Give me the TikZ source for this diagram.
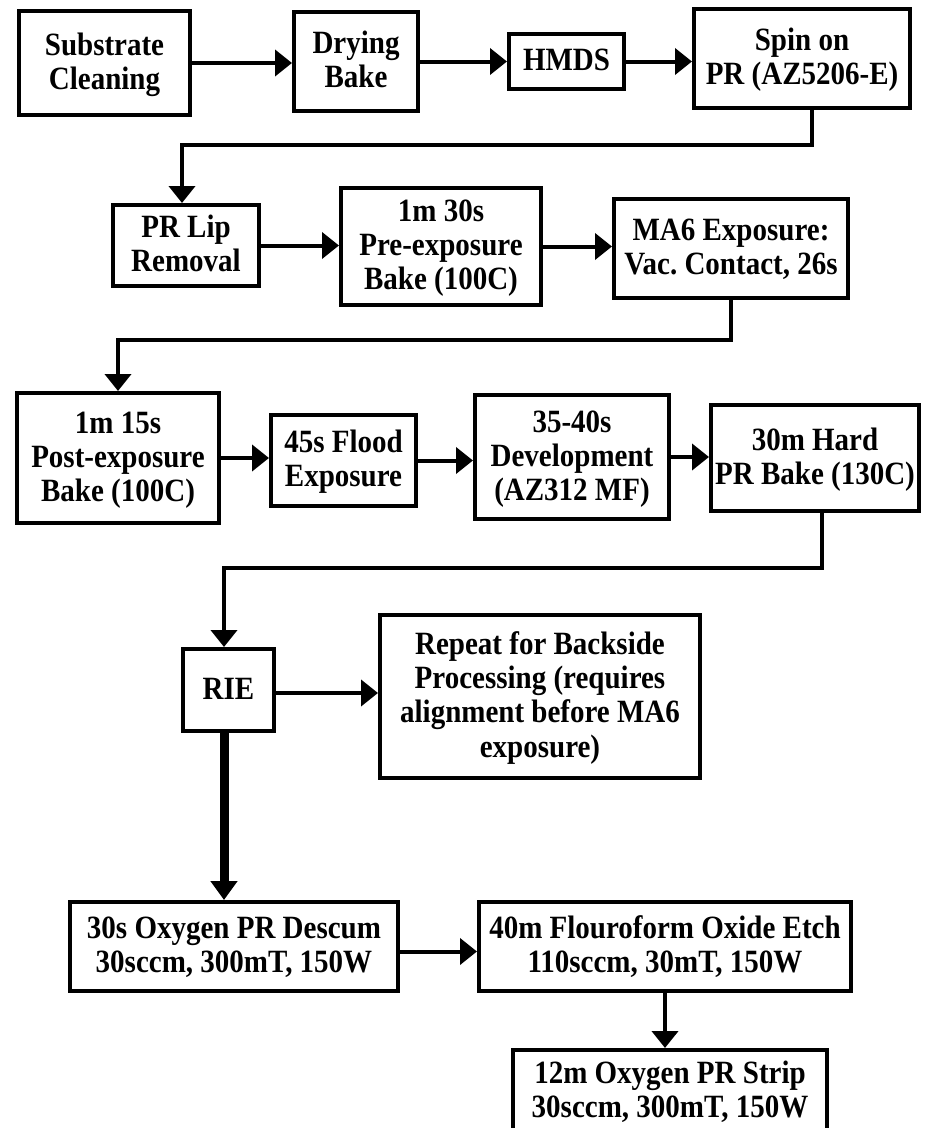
\documentclass[tikz,border=0pt]{standalone}
\usepackage{fontspec}
\setmainfont{Liberation Serif}
\usetikzlibrary{arrows.meta,calc}
% box label: centred lines, set slightly tall and a touch low
\newcommand\lbl[1]{\raisebox{-2.5pt}[\height][\depth]{\scalebox{1}[1.12]{\begin{tabular}{@{}c@{}}#1\end{tabular}}}}
\begin{document}
\frenchspacing
\begin{tikzpicture}[x=1pt,y=-1pt,
  box/.style={draw, line width=4pt, align=center, inner sep=0pt,
    font=\fontsize{29}{30.5}\selectfont\bfseries},
  arr/.style={line width=4pt, -{Triangle[length=17pt,width=26pt]}},
  heavyarr/.style={line width=9pt, -{Triangle[length=19pt,width=26pt]}}]
\clip (0,0) rectangle (925,1128);
\fill[white] (0,0) rectangle (925,1128);

% first row: preparation
\node[box, minimum width=171pt, minimum height=104pt] (sub)   at (104.5,63)   {\lbl{Substrate\\Cleaning}};
\node[box, minimum width=124pt, minimum height=99pt]  (dry)   at (356,61.5)   {\lbl{Drying\\Bake}};
\node[box, minimum width=115pt, minimum height=55pt]  (hmds)  at (566.5,61.5) {\lbl{HMDS}};
\node[box, minimum width=216pt, minimum height=99pt]  (spin)  at (802,58.5)   {\lbl{Spin on\\PR (AZ5206-E)}};

% second row: lip removal and exposure
\node[box, minimum width=146pt, minimum height=81pt]  (lip)   at (186,245.5)  {\lbl{PR Lip\\Removal}};
\node[box, minimum width=200pt, minimum height=117pt] (pre)   at (441,246.5)  {\lbl{1m 30s\\Pre-exposure\\Bake (100C)}};
\node[box, minimum width=234pt, minimum height=99pt]  (ma6)   at (731,248.5)  {\lbl{MA6 Exposure:\\Vac. Contact, 26s}};

% third row: image reversal and development
\node[box, minimum width=202pt, minimum height=130pt] (post)  at (118,458)    {\lbl{1m 15s\\Post-exposure\\Bake (100C)}};
\node[box, minimum width=145pt, minimum height=91pt]  (flood) at (343.5,460.5){\lbl{45s Flood\\Exposure}};
\node[box, minimum width=194pt, minimum height=124pt] (dev)   at (572,457)    {\lbl{35-40s\\Development\\(AZ312 MF)}};
\node[box, minimum width=208pt, minimum height=106pt] (hard)  at (815,458)    {\lbl{30m Hard\\PR Bake (130C)}};

% etching
\node[box, minimum width=91pt,  minimum height=82pt]  (rie)   at (228.5,690)  {\lbl{RIE}};
\node[box, minimum width=320pt, minimum height=163pt] (rep)   at (540,696.5)  {\lbl{Repeat for Backside\\Processing (requires\\alignment before MA6\\exposure)}};
\node[box, minimum width=328pt, minimum height=89pt]  (desc)  at (234,946.5)  {\lbl{30s Oxygen PR Descum\\30sccm, 300mT, 150W}};
\node[box, minimum width=372pt, minimum height=89pt]  (flu)   at (665,946.5)  {\lbl{40m Flouroform Oxide Etch\\110sccm, 30mT, 150W}};
\node[box, minimum width=314pt, minimum height=82pt]  (strip) at (670,1091)   {\lbl{12m Oxygen PR Strip\\30sccm, 300mT, 150W}};

% connectors
\draw[arr] (sub.east) -- (sub.east -| dry.west);
\draw[arr] (dry.east) -- (dry.east -| hmds.west);
\draw[arr] (hmds.east) -- (hmds.east -| spin.west);
\draw[arr] ([xshift=10pt]spin.south) -- ++(0,35) -| ([xshift=-4pt]lip.north);
\draw[arr] (lip.east) -- (lip.east -| pre.west);
\draw[arr] (pre.east) -- (pre.east -| ma6.west);
\draw[arr] (ma6.south) -- ++(0,40) -| (post.north);
\draw[arr] (post.east) -- (post.east -| flood.west);
\draw[arr] (flood.east) -- (flood.east -| dev.west);
\draw[arr] (dev.east) -- (dev.east -| hard.west);
\draw[arr] ([xshift=7pt]hard.south) -- ++(0,55) -| ([xshift=-4.5pt]rie.north);
\draw[arr] ([yshift=-3pt]rie.east) -- ([yshift=-3pt]rie.east -| rep.west);
\draw[heavyarr] ([xshift=-4.5pt]rie.south) -- ([xshift=-4.5pt]rie.south |- desc.north);
\draw[arr] ([yshift=-5pt]desc.east) -- ([yshift=-5pt]desc.east -| flu.west);
\draw[arr] (flu.south) -- (flu.south |- strip.north);
\end{tikzpicture}
\end{document}
